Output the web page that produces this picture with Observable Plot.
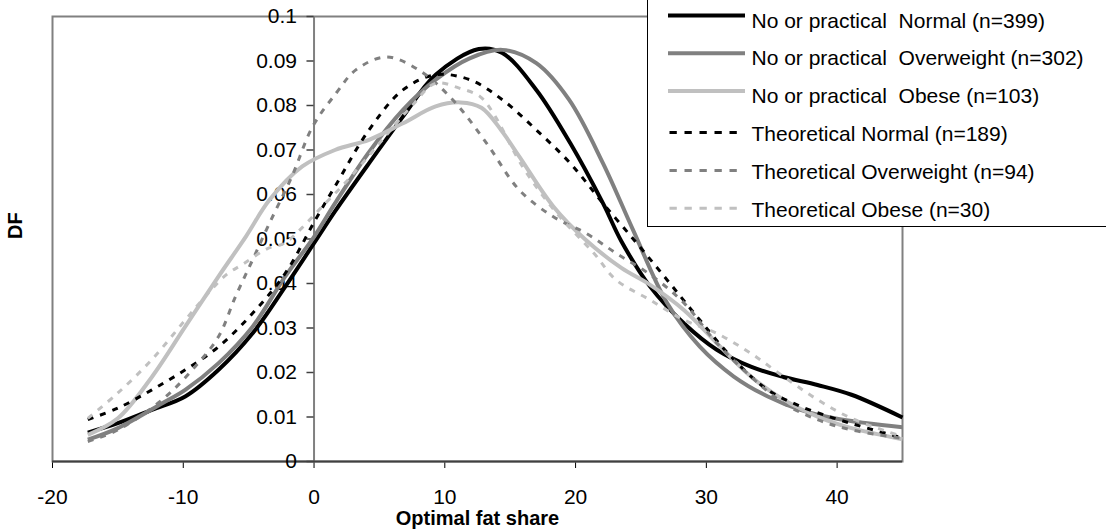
<!DOCTYPE html>
<html><head><meta charset="utf-8">
<script src="https://cdn.jsdelivr.net/npm/d3@7"></script>
<script src="https://cdn.jsdelivr.net/npm/@observablehq/plot@0.6"></script>
<style>
body{margin:0;background:#fff;font-family:"Liberation Sans",Arial,sans-serif;}
#wrap{position:relative;width:1106px;height:529px;overflow:hidden;background:#fff;}
#wrap > svg{position:absolute;left:0;top:0;}
#legend{position:absolute;left:647px;top:-2px;width:480px;height:229px;border:1.5px solid #000;background:#fff;box-sizing:border-box;}
#legend svg{position:absolute;left:-1.5px;top:-1.5px;overflow:visible;}
</style></head><body><div id="wrap"></div>
<script>
// ---- data ----
const xTicks = [-20, -10, 0, 10, 20, 30, 40];
const yTicks = [0, 0.01, 0.02, 0.03, 0.04, 0.05, 0.06, 0.07, 0.08, 0.09, 0.1];
const yTickLabels = ["0", "0.01", "0.02", "0.03", "0.04", "0.05", "0.06", "0.07", "0.08", "0.09", "0.1"];
const xLabel = "Optimal fat share";
const yLabel = "DF";

const seriesNames = [
  "No or practical  Normal (n=399)",
  "No or practical  Overweight (n=302)",
  "No or practical  Obese (n=103)",
  "Theoretical Normal (n=189)",
  "Theoretical Overweight (n=94)",
  "Theoretical Obese (n=30)"
];

const practicalNormal = [[-17.3,0.0065],[-15,0.0086],[-12.4,0.0116],[-9.85,0.0146],[-7.3,0.0206],[-4.7,0.0288],[-2.2,0.0393],[0.1,0.0495],[1.6,0.0562],[4.2,0.067],[6.8,0.0775],[9.3,0.0869],[12.6,0.0927],[14.4,0.0918],[17,0.0835],[19.6,0.0715],[22.1,0.058],[23.5,0.0495],[25.7,0.0393],[28.3,0.031],[30.8,0.0251],[33.4,0.0213],[35.9,0.019],[38.5,0.0172],[41.1,0.015],[45,0.0099]];
const practicalOverweight = [[-17.3,0.0049],[-15,0.0075],[-11.6,0.0131],[-9.85,0.0161],[-7.3,0.0221],[-4.7,0.0303],[-2.2,0.0416],[0,0.0505],[1.6,0.058],[4.2,0.0695],[6.8,0.079],[9.3,0.0858],[11.9,0.0906],[14.4,0.0925],[17,0.0895],[19.5,0.0813],[22.1,0.067],[24.4,0.052],[27,0.0356],[29.5,0.0258],[32.1,0.0191],[34.7,0.0146],[37.2,0.0116],[39.8,0.0097],[42.3,0.0086],[45,0.0077]];
const practicalObese = [[-17.3,0.006],[-15,0.0097],[-12.4,0.019],[-9.85,0.0303],[-7.3,0.0416],[-5.2,0.0506],[-3.4,0.0588],[-0.9,0.0663],[1.6,0.0700],[4.2,0.0723],[6.8,0.076],[9.3,0.0798],[11.2,0.0807],[12.8,0.0795],[14.3,0.0745],[15.7,0.0685],[18.3,0.0573],[20.7,0.050],[23.5,0.0435],[25.7,0.0397],[28.3,0.034],[30.8,0.0266],[33.4,0.0191],[35.9,0.0139],[38.5,0.0101],[41.1,0.0075],[45,0.005]];
const theoreticalNormal = [[-17.3,0.0094],[-15,0.012],[-12.4,0.0161],[-9.85,0.0206],[-7.3,0.0258],[-4.7,0.0333],[-2.2,0.0423],[0.1,0.0543],[1.6,0.0618],[4.2,0.0745],[6.8,0.0835],[9.3,0.0869],[11.9,0.0858],[14.4,0.0813],[17,0.0745],[19.6,0.067],[22.1,0.058],[24.7,0.049],[27,0.0408],[29.5,0.0318],[32.1,0.0229],[34.7,0.0161],[37.2,0.0124],[39.8,0.0097],[42.3,0.0075],[45,0.0053]];
const theoreticalOverweight = [[-17.3,0.0045],[-15,0.0071],[-11.6,0.0139],[-9.1,0.0213],[-7.3,0.0281],[-6,0.0371],[-4.7,0.0453],[-3.4,0.0536],[-1.7,0.064],[-0.1,0.0753],[1.7,0.0828],[3.2,0.088],[5.5,0.0909],[8,0.088],[10.6,0.0813],[13.2,0.0715],[15.7,0.061],[18.3,0.055],[20.8,0.0513],[23.1,0.0468],[25.7,0.042],[28.3,0.0356],[30.8,0.0266],[33.4,0.0191],[35.9,0.0131],[38.5,0.0094],[41.1,0.0071],[45,0.0052]];
const theoreticalObese = [[-17.3,0.0097],[-15,0.0154],[-12.4,0.0229],[-9.85,0.0318],[-8.1,0.0378],[-6.7,0.042],[-5.4,0.0444],[-3.6,0.0478],[-2.3,0.049],[-1.1,0.052],[0.4,0.0566],[2.5,0.063],[5,0.0715],[7.5,0.080],[9.3,0.085],[11.1,0.0839],[12.7,0.082],[13.7,0.0783],[16,0.066],[18.5,0.056],[21.4,0.0468],[23.1,0.0408],[25.7,0.0363],[28.3,0.0318],[30.8,0.0288],[33.4,0.0243],[35.9,0.0191],[38.5,0.0139],[41.1,0.0097],[45,0.0056]];

const seriesData = [practicalNormal, practicalOverweight, practicalObese, theoreticalNormal, theoreticalOverweight, theoreticalObese];
const seriesColors = ["#000000", "#808080", "#c0c0c0", "#000000", "#808080", "#c0c0c0"];
const seriesDashed = [false, false, false, true, true, true];

// ---- chart ----
const FONT = "'Liberation Sans', Arial, Helvetica, sans-serif";
const rows = seriesData.map((d, i) => d.map(([x, y]) => ({x, y, series: seriesNames[i]})));

const lineMarks = rows.map((r, i) => Plot.line(r, {
  x: "x", y: "y",
  stroke: seriesColors[i],
  strokeWidth: seriesDashed[i] ? 3 : 4,
  strokeDasharray: seriesDashed[i] ? "6,7" : null,
  curve: "catmull-rom",
  strokeLinecap: "butt"
}));

const chart = Plot.plot({
  width: 1106, height: 529,
  marginLeft: 52, marginRight: 204, marginTop: 16, marginBottom: 68,
  style: {fontFamily: FONT, fontSize: "21px", color: "#000", background: "#fff", overflow: "visible"},
  x: {domain: [-20, 45], ticks: xTicks, tickSize: 7, tickPadding: 21, tickFormat: d => String(d), label: null},
  y: {domain: [0, 0.1], axis: null},
  marks: [
    Plot.frame({stroke: "#808080", strokeWidth: 2}),
    Plot.ruleX([0], {stroke: "#808080", strokeWidth: 2}),
    Plot.ruleY(yTicks, {x1: -0.54, x2: 0, stroke: "#404040", strokeWidth: 1.5}),
    Plot.ruleY([0], {stroke: "#404040", strokeWidth: 2}),
    Plot.text(yTicks, {x: 0, y: d => d, text: (d, i) => yTickLabels[i], textAnchor: "end", dx: -17, fontSize: 21, fill: "#000"}),
    ...lineMarks,
    Plot.text([yLabel], {frameAnchor: "left", rotate: -90, dx: -37, fontWeight: "bold", fontSize: 20, fill: "#000"}),
    Plot.text([xLabel], {frameAnchor: "bottom", dy: 63, fontWeight: "bold", fontSize: 20, fill: "#000"})
  ]
});

const wrap = document.getElementById("wrap");
wrap.appendChild(chart);

// ---- legend (overlapping the top-right of the plot, as in the original) ----
const legend = document.createElement("div");
legend.id = "legend";
wrap.appendChild(legend);
const lsvg = d3.select(legend).append("svg").attr("width", 480).attr("height", 232);
seriesNames.forEach((name, i) => {
  const base = 37.8 * i;
  const ly = seriesDashed[i] ? 21.2 + base : 17.5 + base;
  lsvg.append("line")
    .attr("x1", seriesDashed[i] ? 22.5 : 21).attr("x2", seriesDashed[i] ? 90.5 : 98)
    .attr("y1", ly).attr("y2", ly)
    .attr("stroke", seriesColors[i])
    .attr("stroke-width", seriesDashed[i] ? 3 : 4)
    .attr("stroke-dasharray", seriesDashed[i] ? "7.3,7.7" : null);
  lsvg.append("text")
    .attr("x", 104.5).attr("y", 29.5 + base)
    .attr("font-family", FONT).attr("font-size", 21)
    .attr("fill", "#000")
    .style("white-space", "pre")
    .attr("xml:space", "preserve")
    .text(name);
});
</script></body></html>
